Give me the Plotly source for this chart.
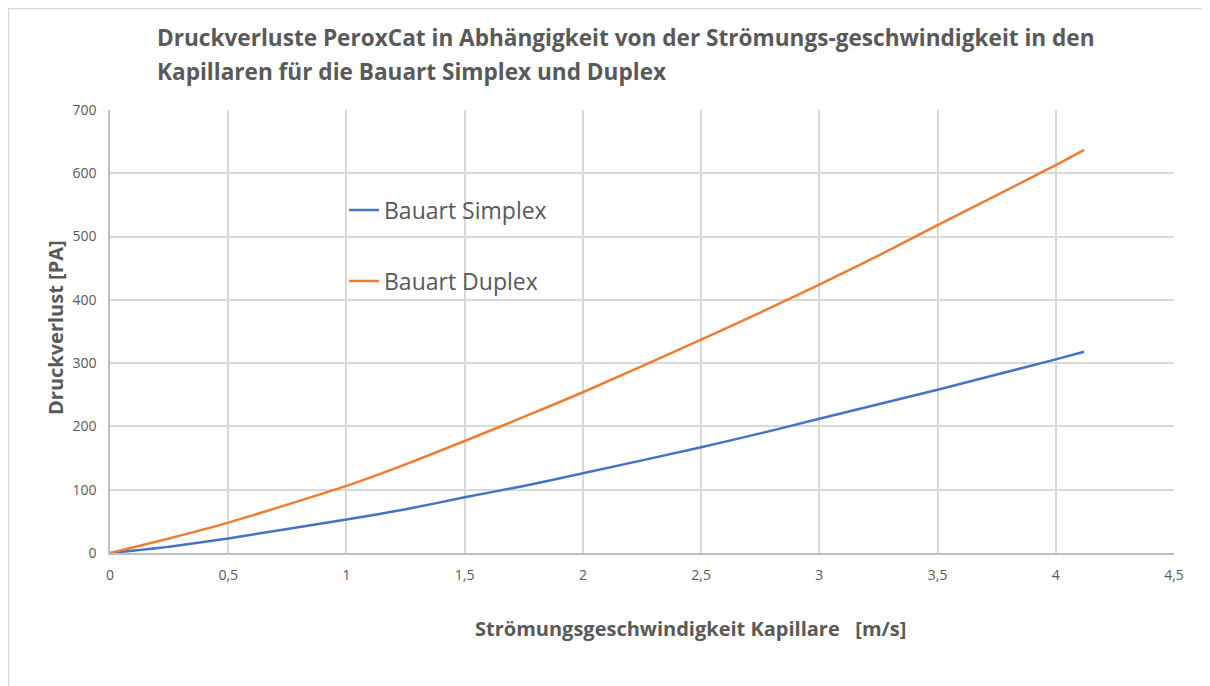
import plotly.graph_objects as go

velocity = [0, 0.25, 0.5, 1.0, 1.25, 1.5, 1.75, 2.0, 2.5, 2.75, 3.0, 3.25, 3.5, 4.0, 4.12]
simplex = [0, 10, 23, 53, 69, 88, 106, 126, 167, 189, 212, 235, 258, 306, 318]
duplex = [0, 23, 48, 106, 140, 177, 215, 254, 337, 380, 424, 470, 518, 613, 637]

x_ticks = [0, 0.5, 1, 1.5, 2, 2.5, 3, 3.5, 4, 4.5]
y_ticks = [0, 100, 200, 300, 400, 500, 600, 700]

title_lines = ["Druckverluste PeroxCat in Abhängigkeit von der Strömungs-geschwindigkeit in den",
               "Kapillaren für die Bauart Simplex und Duplex"]
x_title = "Strömungsgeschwindigkeit Kapillare \u00a0 [m/s]"
y_title = "Druckverlust [PA]"

gray = "#595959"
FONT = "Open Sans"

# plot area in figure pixels: x 102..1166, y 102..545
L, T, PW, PH = 102, 102, 1064, 443
W, H = 1210, 686


def px(xf):
    return (xf - L) / PW


def py(yf):
    return (T + PH - yf) / PH


fig = go.Figure()
fig.add_trace(go.Scatter(x=velocity, y=simplex, mode="lines", name="Bauart Simplex",
                         line=dict(color="#4472C4", width=2.5, shape="spline", smoothing=0.6),
                         legend="legend", showlegend=True))
fig.add_trace(go.Scatter(x=velocity, y=duplex, mode="lines", name="Bauart Duplex",
                         line=dict(color="#ED7D31", width=2.5, shape="spline", smoothing=0.6),
                         legend="legend2", showlegend=True))

legend_common = dict(font=dict(family=FONT, size=23, color=gray), bgcolor="rgba(0,0,0,0)",
                     xanchor="left", yanchor="middle", itemwidth=30)
fig.update_layout(
    width=W, height=H,
    margin=dict(l=L, r=W - L - PW, t=T, b=H - T - PH),
    paper_bgcolor="white", plot_bgcolor="white",
    separators=",.",
    showlegend=True,
    legend=dict(x=px(336), y=py(202), **legend_common),
    legend2=dict(x=px(336), y=py(273), **legend_common),
    xaxis=dict(range=[0, 4.5], tickvals=x_ticks, showgrid=True, gridcolor="#d9d9d9", gridwidth=1.5,
               showline=True, linecolor="#bfbfbf", linewidth=1.5, zeroline=False,
               tickfont=dict(family=FONT, size=14, color=gray), ticks="", ticklabelstandoff=8),
    yaxis=dict(range=[0, 700], tickvals=y_ticks, showgrid=True, gridcolor="#d9d9d9", gridwidth=1.5,
               showline=True, linecolor="#bfbfbf", linewidth=1.5, zeroline=False,
               tickfont=dict(family=FONT, size=14, color=gray), ticks="", ticklabelstandoff=9),
)

fig.add_annotation(text=title_lines[0], xref="paper", yref="paper", x=px(147), y=py(30),
                   xanchor="left", yanchor="middle", showarrow=False,
                   font=dict(family=FONT, size=22.6, color=gray, weight="bold"))
fig.add_annotation(text=title_lines[1], xref="paper", yref="paper", x=px(147), y=py(64),
                   xanchor="left", yanchor="middle", showarrow=False,
                   font=dict(family=FONT, size=22.6, color=gray, weight="bold"))
fig.add_annotation(text=x_title, xref="paper", yref="paper", x=px(682), y=py(620),
                   xanchor="center", yanchor="middle", showarrow=False,
                   font=dict(family=FONT, size=20, color=gray, weight="bold"))
fig.add_annotation(text=y_title, xref="paper", yref="paper", x=px(47), y=py(320),
                   xanchor="center", yanchor="middle", showarrow=False, textangle=-90,
                   font=dict(family=FONT, size=20, color=gray, weight="bold"))

fig.add_shape(type="rect", xref="paper", yref="paper",
              x0=px(0.5), x1=px(1197), y0=py(700), y1=py(0.5),
              line=dict(color="#d9d9d9", width=1.5), layer="below")
fig.write_html("out.html")
